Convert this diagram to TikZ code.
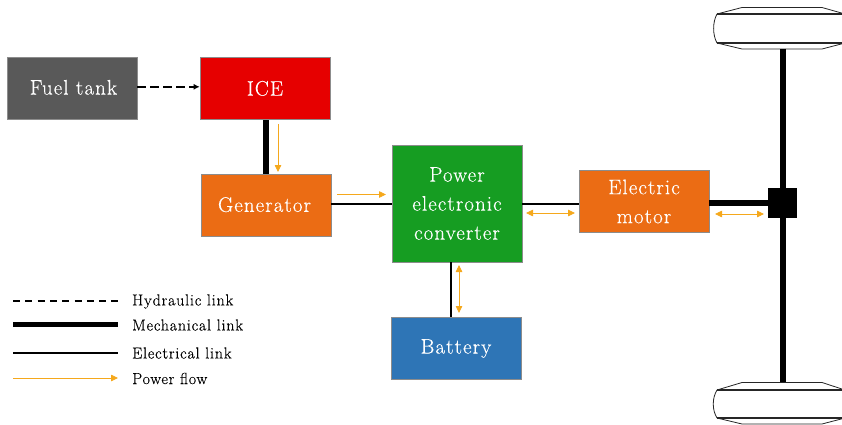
\documentclass[tikz,border=0pt]{standalone}
\usepackage{fontspec}
\setmainfont{Latin Modern Roman}[LetterSpace=5,FakeBold=0.25]
\usetikzlibrary{arrows.meta,calc}
\definecolor{cgrey}{HTML}{595959}
\definecolor{cred}{HTML}{E60000}
\definecolor{corange}{HTML}{EB6C14}
\definecolor{cgreen}{HTML}{169D22}
\definecolor{cblue}{HTML}{2E75B6}
\definecolor{cflow}{HTML}{F5A81C}
\tikzset{
  blockbox/.style={draw=black!45,line width=0.6pt,minimum width=130pt,minimum height=62.5pt,inner sep=0pt,text=white,align=center,font=\fontsize{21}{29}\selectfont},
  hydlink/.style={line width=2pt,dash pattern=on 8.5pt off 4.5pt},
  mechlink/.style={line width=5.5pt},
  eleclink/.style={line width=2pt},
  flowsingle/.style={draw=cflow,line width=0.8pt,-{Triangle[length=7pt,width=6.5pt,fill=cflow]}},
  flowdouble/.style={draw=cflow,line width=0.8pt,{Triangle[length=7pt,width=6.5pt,fill=cflow]}-{Triangle[length=7pt,width=6.5pt,fill=cflow]}},
  legendtext/.style={anchor=west,inner sep=0pt,font=\fontsize{16}{18}\selectfont},
  wheelline/.style={draw=black!85,line width=0.8pt},
}
\begin{document}
\begin{tikzpicture}[x=1pt,y=-1pt]
\useasboundingbox (0,0) rectangle (842,425);
\clip (0,0) rectangle (842,425);
% blocks
\node[blockbox,fill=cgrey] (tank) at (72,88.5) {\hspace*{3pt}\raisebox{2.5pt}{Fuel tank}};
\node[blockbox,fill=cred] (ice) at (265,88.5) {\raisebox{0.5pt}{ICE}};
\node[blockbox,fill=corange] (gen) at (266,205.5) {\raisebox{2pt}{Generator}\hspace*{3pt}};
\node[blockbox,fill=cgreen,minimum height=117pt] (pec) at (457,203.5) {Power\\electronic\\converter};
\node[blockbox,fill=cblue] (bat) at (456,348.5) {Battery};
\node[blockbox,fill=corange] (mot) at (644,201.5) {Electric\\motor};
\node[fill=black,minimum width=29.5pt,minimum height=30pt,inner sep=0pt] (hub) at (782.5,203) {};
% wheels
\coordinate (axletop) at (782.5,49);
\coordinate (axlebot) at (782.5,382);
\draw[wheelline] (717,14) -- (742,7.5) -- (822,7.5) -- (845,14);
\draw[wheelline] (717,43) -- (742,49) -- (822,49) -- (845,43);
\draw[wheelline,line width=1.2pt] (717,14) -- (845,14);
\draw[wheelline,line width=1.2pt] (717,43) -- (845,43);
\draw[wheelline] (717,14) .. controls (712.5,22) and (712.5,35) .. (717,43);
\draw[wheelline] (717,390) -- (742,382.5) -- (822,382.5) -- (845,390);
\draw[wheelline] (717,418) -- (742,424) -- (822,424) -- (845,418);
\draw[wheelline,line width=1.2pt] (717,390) -- (845,390);
\draw[wheelline,line width=1.2pt] (717,418) -- (845,418);
\draw[wheelline] (717,390) .. controls (712,398) and (712,410) .. (717,418);
% links
\draw[hydlink,-{Latex[length=6pt,width=6pt]}] ([yshift=1.7pt]tank.east) -- ([yshift=1.7pt]ice.west);
\draw[mechlink] (gen.north) -- (gen.north |- ice.south);
\draw[eleclink] ([yshift=1.5pt]gen.east) -- ([yshift=1.5pt]gen.east -| pec.west);
\draw[eleclink] (pec.east) -- (mot.west |- pec.east);
\draw[eleclink] ($(pec.south)+(-6.5,0)$) coordinate (pb) -- (pb |- bat.north);
\draw[mechlink] (mot.east |- hub.west) -- (hub.west);
\draw[line width=6pt] (axletop) -- (hub.north);
\draw[line width=6pt] (hub.south) -- (axlebot);
% power flow
\coordinate (f1a) at (278,124); \coordinate (f1b) at (278,172);
\coordinate (f2a) at (337,194.5); \coordinate (f2b) at (386,194.5);
\coordinate (f3a) at (526,213); \coordinate (f3b) at (575,213);
\coordinate (f4a) at (459,265); \coordinate (f4b) at (459,313);
\coordinate (f5a) at (715,214); \coordinate (f5b) at (764,214);
\draw[flowsingle] (f1a) -- (f1b);
\draw[flowsingle] (f2a) -- (f2b);
\draw[flowdouble] (f3a) -- (f3b);
\draw[flowdouble] (f4a) -- (f4b);
\draw[flowdouble] (f5a) -- (f5b);
% legend
\coordinate (l1a) at (13,301); \coordinate (l1b) at (118,301);
\coordinate (l2a) at (13,324.5); \coordinate (l2b) at (118,324.5);
\coordinate (l3a) at (13,353); \coordinate (l3b) at (118,353);
\coordinate (l4a) at (13,378); \coordinate (l4b) at (118,378);
\draw[line width=1.3pt,dash pattern=on 7pt off 5.3pt] (l1a) -- (l1b);
\draw[mechlink] (l2a) -- (l2b);
\draw[eleclink] (l3a) -- (l3b);
\draw[flowsingle] (l4a) -- (l4b);
\node[legendtext] (t1) at (132,301.5) {Hydraulic link};
\node[legendtext] (t2) at (132,325) {Mechanical link};
\node[legendtext] (t3) at (132,353) {Electrical link};
\node[legendtext] (t4) at (132,378.5) {Power flow};
\end{tikzpicture}
\end{document}
